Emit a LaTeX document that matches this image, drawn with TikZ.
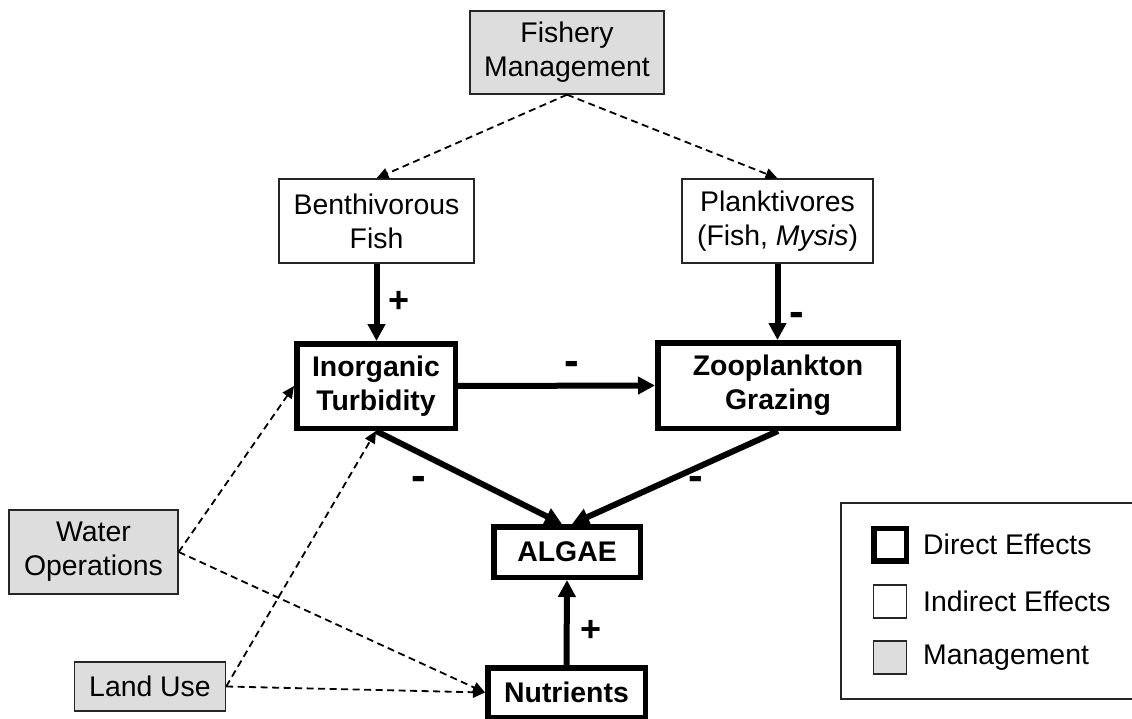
\documentclass[tikz,border=0pt]{standalone}
\usepackage{fontspec}
\setmainfont{Liberation Sans}
\usetikzlibrary{arrows.meta}
\definecolor{mgmtgray}{HTML}{DDDDDD}
\begin{document}
\begin{tikzpicture}[x=1pt,y=-1pt,
  every node/.style={font=\fontsize{28.4}{34}\selectfont, align=center, inner sep=0pt},
  mgmt/.style={draw=black!85, line width=1.4pt, fill=mgmtgray},
  indirect/.style={draw=black!85, line width=1.4pt, fill=white},
  direct/.style={draw=black, line width=5.5pt, fill=white, font=\fontsize{28.4}{34}\selectfont\bfseries},
  effect/.style={-{Triangle[length=17pt,width=17pt]}, line width=6pt},
  influence/.style={-{Triangle[length=12pt,width=11pt]}, line width=1.8pt, dash pattern=on 7pt off 4.5pt},
  plus/.style={font=\fontsize{36}{36}\selectfont\bfseries},
  minus/.style={font=\fontsize{44}{44}\selectfont\bfseries},
  legendtext/.style={anchor=west}
]
\useasboundingbox (0,0) rectangle (1132,719);

% management boxes
\node[mgmt, minimum width=194pt, minimum height=83pt] (fm) at (567,52.5) {Fishery\\Management};
\node[mgmt, minimum width=169pt, minimum height=84pt] (wo) at (93.5,552) {Water\\Operations};
\node[mgmt, minimum width=151pt, minimum height=49pt] (lu) at (150,686.5) {Land Use};

% indirect effects
\node[indirect, minimum width=195pt, minimum height=84pt] (bf) at (376.5,221) {Benthivorous\\Fish};
\node[indirect, minimum width=191pt, minimum height=84pt] (pl) at (777.5,221) {Planktivores\\(Fish, \textit{Mysis})};

% direct effects
\node[direct, minimum width=158.5pt, minimum height=84.5pt] (it) at (376,386) {Inorganic\\Turbidity};
\node[direct, minimum width=240.5pt, minimum height=85.5pt] (zg) at (778,385.5) {Zooplankton\\Grazing};
\node[direct, minimum width=146.5pt, minimum height=50.5pt] (al) at (567,552) {ALGAE};
\node[direct, minimum width=157.5pt, minimum height=49.5pt] (nu) at (566.5,692.5) {Nutrients};

% management influences
\draw[influence] (fm.south) -- (bf.north);
\draw[influence] (fm.south) -- (pl.north);
\draw[influence] (wo.east) -- (it.west);
\draw[influence] (wo.east) -- (nu.west);
\draw[influence] (lu.east) -- (it.south);
\draw[influence] (lu.east) -- (nu.west);

% direct effects on the food web
\draw[effect] (bf.south) -- (bf.south |- it.north);
\draw[effect] (pl.south) -- (pl.south |- zg.north);
\draw[effect] (it.east) -- (zg.west);
\draw[effect] (it.south) -- ([xshift=-5pt]al.north);
\draw[effect] (zg.south) -- ([xshift=5pt]al.north);
\draw[effect] (nu.north) -- (al.south);

% signs
\node[plus] (s1) at (399,302) {+};
\node[minus] (s2) at (797,319) {-};
\node[minus] (s3) at (572,368) {-};
\node[minus] (s4) at (419,483) {-};
\node[minus] (s5) at (696,483) {-};
\node[plus] (s6) at (591,631) {+};

% legend
\draw[draw=black!85, line width=1.4pt] (841,503) rectangle (1140,699);
\node[draw=black, line width=5.5pt, minimum size=32.5pt] (ld) at (890,544.5) {};
\node[indirect, minimum size=33pt] (li) at (890,601.5) {};
\node[mgmt, minimum size=33pt] (lm) at (890,657.5) {};
\node[legendtext] (tld) at (923,544.5) {Direct Effects};
\node[legendtext] (tli) at (923,601.5) {Indirect Effects};
\node[legendtext] (tlm) at (923,657.5) {Management};
\end{tikzpicture}
\end{document}
